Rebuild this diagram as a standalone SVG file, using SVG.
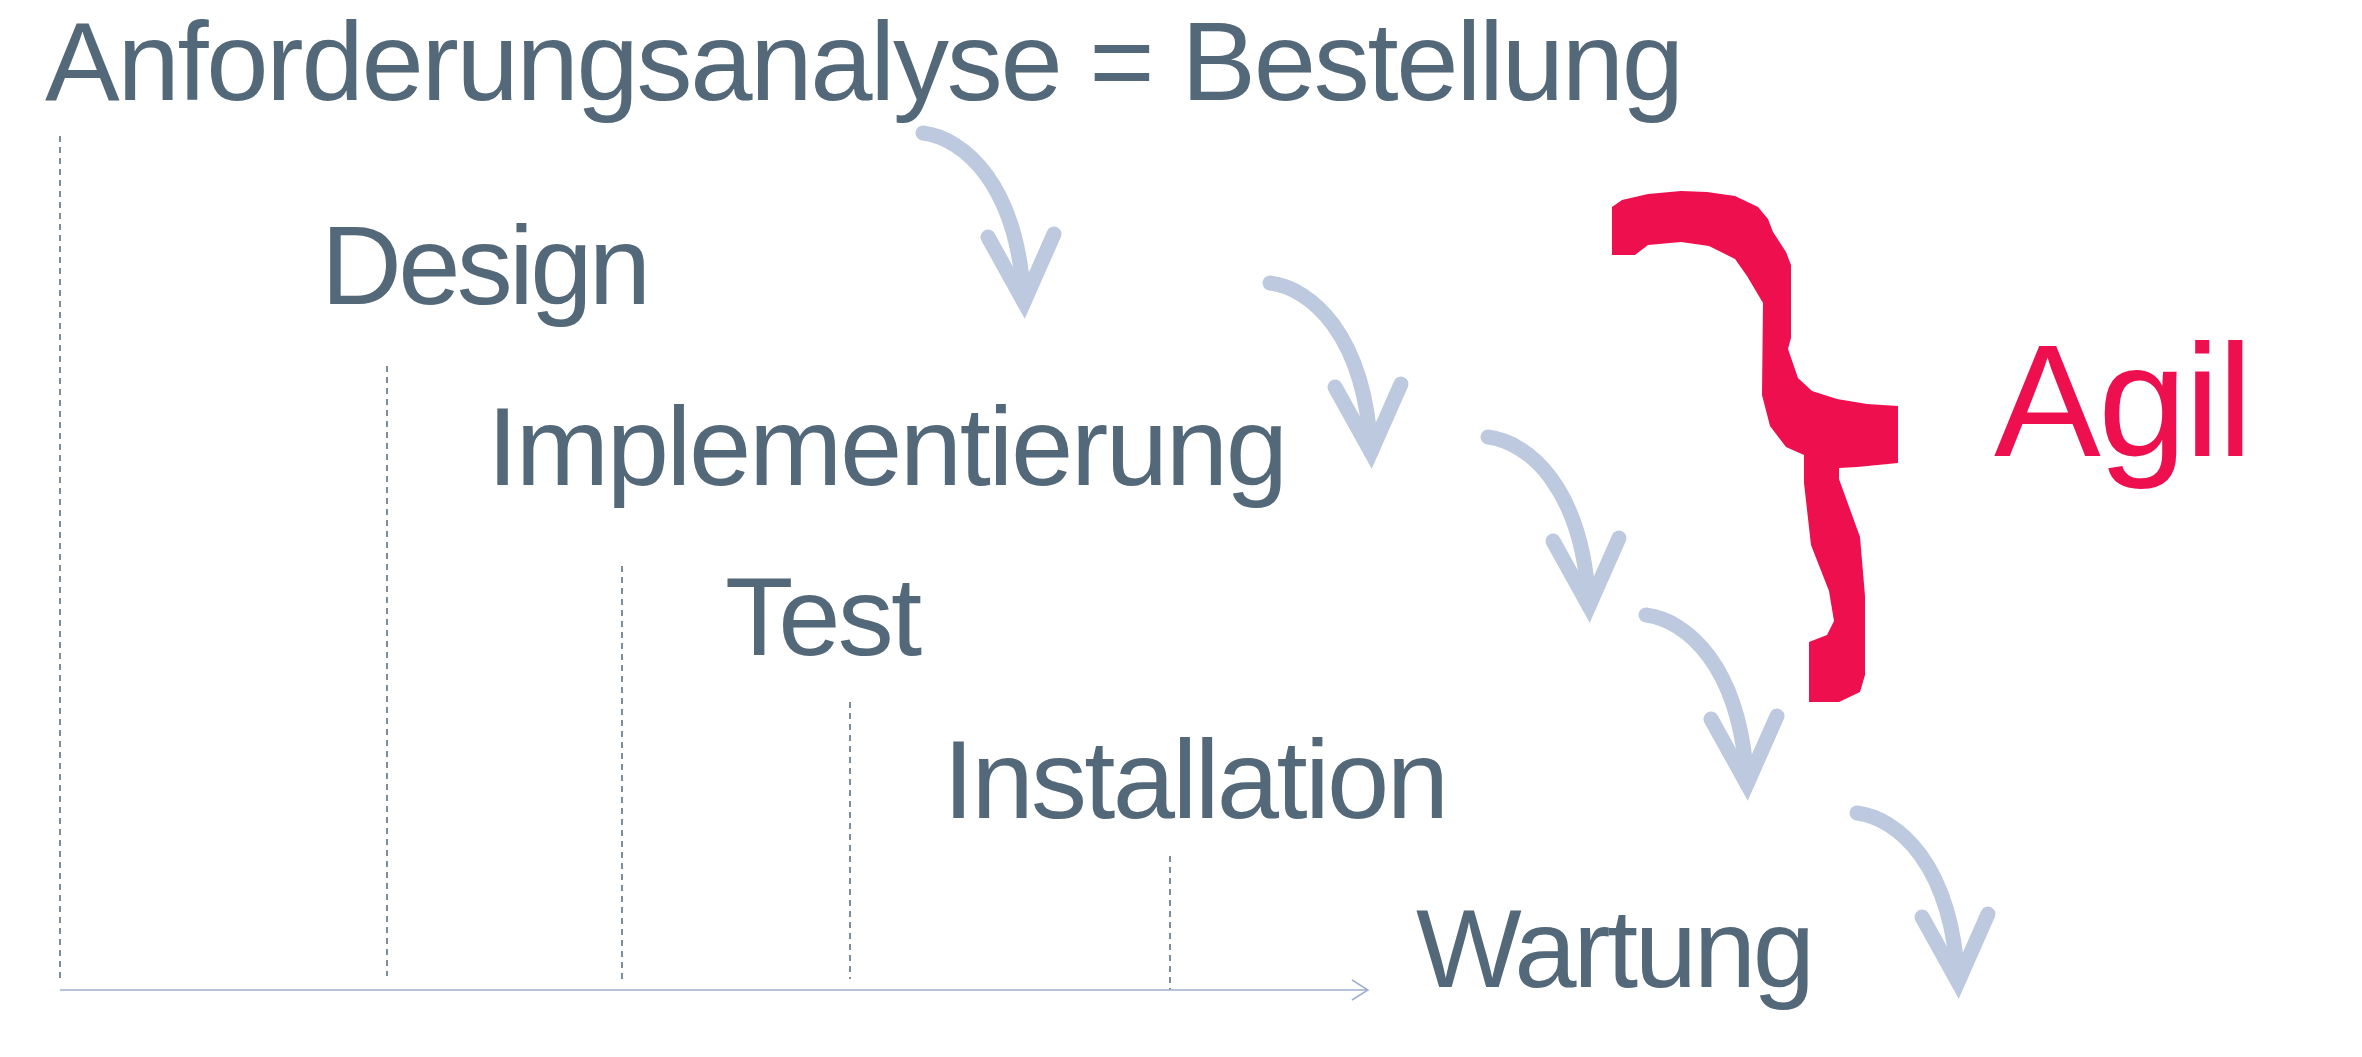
<svg xmlns="http://www.w3.org/2000/svg" width="2362" height="1057" viewBox="0 0 2362 1057">
<defs>
<style>
.t{font-family:"Liberation Sans",Arial,sans-serif;font-size:112px;fill:#536878}
.d{stroke:#536878;stroke-width:1.5;stroke-dasharray:6,5;fill:none}
.a{stroke:#bcc9de;stroke-width:15;fill:none;stroke-linecap:round;stroke-linejoin:miter}
</style>
<g id="arr"><path class="a" d="M0,0 C40,5 95,50 101,169"/><path class="a" d="M65,104 L101,169 L131,101"/></g>
</defs>
<rect width="2362" height="1057" fill="#fff"/>
<g id="title"><text class="t" x="45" y="100" textLength="1639" lengthAdjust="spacing">Anforderungsanalyse = Bestellung</text></g>
<g id="design"><text class="t" x="321" y="304" textLength="330" lengthAdjust="spacing">Design</text></g>
<g id="impl"><text class="t" x="487" y="485" textLength="801" lengthAdjust="spacing">Implementierung</text></g>
<g id="test"><text class="t" x="725" y="655" textLength="197" lengthAdjust="spacing">Test</text></g>
<g id="inst"><text class="t" x="943" y="818" textLength="506" lengthAdjust="spacing">Installation</text></g>
<g id="wartung"><text class="t" x="1416" y="987" textLength="399" lengthAdjust="spacing">Wartung</text></g>
<g id="agil">
<path fill="#ee0f4f" d="M1612,207 L1612,255 L1635,255 L1648,245 L1681,242 L1709,246 L1735,259 L1747,276 L1763,303 L1762,395 L1770,426 L1786,447 L1804,455 L1804,483 L1811,545 L1829,591 L1834,621 L1827,635 L1809,642 L1809,702 L1839,702 L1860,692 L1865,675 L1865,596 L1860,537 L1839,479 L1839,468 L1857,467 L1898,463 L1898,406 L1867,404 L1837,399 L1812,391 L1798,378 L1788,349 L1791,338 L1791,265 L1786,252 L1773,232 L1768,219 L1758,207 L1735,196 L1707,192 L1681,191 L1648,194 L1622,200 Z"/>
<text x="1994" y="456" font-family="Liberation Sans,Arial,sans-serif" font-size="160" fill="#ee0f4f" textLength="259" lengthAdjust="spacing">Agil</text>
</g>
<g id="connectors">
<path class="d" d="M60,136 V979 M387,366 V976 M622,566 V979 M850,702 V979 M1170,856 V990"/>
<path d="M60,990 H1368 M1352,980 L1368,990 L1352,1000" stroke="#9fb0d0" stroke-width="1.5" fill="none"/>
<use href="#arr" x="923" y="133"/>
<use href="#arr" x="1270" y="283"/>
<use href="#arr" x="1488" y="437"/>
<use href="#arr" x="1646" y="615"/>
<use href="#arr" x="1857" y="813"/>
</g>
</svg>
